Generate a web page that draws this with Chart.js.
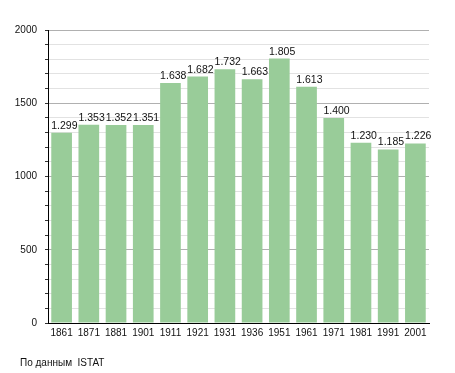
<!DOCTYPE html>
<html>
<head>
<meta charset="utf-8">
<script src="https://cdn.jsdelivr.net/npm/chart.js@4"></script>
<style>
  html, body { margin: 0; padding: 0; background: #fff; }
  #wrap { width: 455px; height: 373px; }
</style>
</head>
<body>
<div id="wrap"><canvas id="popChart"></canvas></div>
<script>
const years = ['1861', '1871', '1881', '1901', '1911', '1921', '1931', '1936', '1951', '1961', '1971', '1981', '1991', '2001'];
const population = [1299, 1353, 1352, 1351, 1638, 1682, 1732, 1663, 1805, 1613, 1400, 1230, 1185, 1226];
const sourceNote = 'По данным  ISTAT';

const FONT = '"Liberation Sans", Arial, sans-serif';

// 1299 -> "1.299"
const fmt = (v) => String(v).replace(/\B(?=(\d{3})+(?!\d))/g, '.');

const valueLabels = {
  id: 'valueLabels',
  afterDatasetsDraw: (chart) => {
    const ctx = chart.ctx;
    const meta = chart.getDatasetMeta(0);
    ctx.save();
    ctx.font = '10.5px ' + FONT;
    ctx.fillStyle = '#111';
    ctx.textAlign = 'left';
    ctx.textBaseline = 'alphabetic';
    meta.data.forEach((bar, i) => {
      const left = bar.x - bar.width / 2;
      ctx.fillText(fmt(population[i]), left, bar.y - 4);
    });
    ctx.restore();
  }
};

const footNote = {
  id: 'footNote',
  afterDraw: (chart) => {
    const ctx = chart.ctx;
    ctx.save();
    ctx.font = '10px ' + FONT;
    ctx.fillStyle = '#111';
    ctx.textAlign = 'left';
    ctx.fillText(sourceNote, 20, 366);
    ctx.restore();
  }
};

new Chart(document.getElementById('popChart'), {
  type: 'bar',
  data: {
    labels: years,
    datasets: [{
      data: population,
      backgroundColor: '#99cc99',
      borderWidth: 0,
      barPercentage: 0.76,
      categoryPercentage: 1
    }]
  },
  options: {
    responsive: true,
    maintainAspectRatio: false,
    animation: false,
    layout: { padding: { top: 30, right: 26, bottom: 0, left: 0 } },
    plugins: {
      legend: { display: false },
      tooltip: { enabled: false }
    },
    scales: {
      x: {
        afterFit: (scale) => { scale.height = 50; },
        grid: { display: false, drawTicks: false },
        border: { color: '#000', width: 1 },
        ticks: {
          color: '#111',
          font: { family: FONT, size: 10 },
          padding: 4,
          maxRotation: 0,
          autoSkip: false
        }
      },
      y: {
        min: 0,
        max: 2000,
        afterFit: (scale) => { scale.width = 48; },
        border: { color: '#000', width: 1 },
        grid: {
          color: (c) => (c.tick && c.tick.value % 500 === 0) ? '#b0b0b0' : '#e2e2e2',
          tickColor: '#333',
          tickLength: 3
        },
        ticks: {
          stepSize: 100,
          autoSkip: false,
          color: '#111',
          padding: 8,
          font: { family: FONT, size: 10 },
          callback: (v) => v % 500 === 0 ? v : ''
        }
      }
    }
  },
  plugins: [valueLabels, footNote]
});
</script>
</body>
</html>
